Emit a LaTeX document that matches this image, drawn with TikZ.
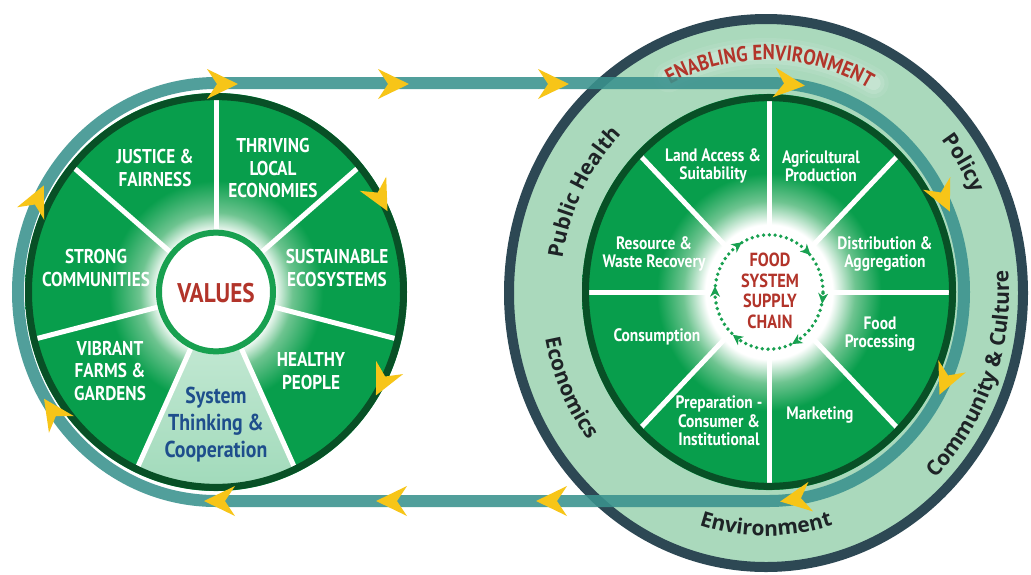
\documentclass[tikz,border=0pt]{standalone}
\usepackage{fontspec}
\usetikzlibrary{decorations.text}
\newfontfamily\cf[FakeStretch=0.86]{PT Sans}
\newfontfamily\rf{Open Sans}
\definecolor{dgreen}{RGB}{8,158,76}
\definecolor{gmid}{RGB}{110,196,144}
\definecolor{dkgreen}{RGB}{8,80,38}
\definecolor{cgreen}{RGB}{24,160,80}
\definecolor{lgreen}{RGB}{170,217,188}
\definecolor{lsect}{RGB}{160,218,186}
\definecolor{lsecttop}{RGB}{205,236,218}
\definecolor{slate}{RGB}{45,72,84}
\definecolor{tealc}{RGB}{58,146,142}
\definecolor{yel}{RGB}{247,197,24}
\definecolor{redc}{RGB}{178,52,42}
\definecolor{bluec}{RGB}{30,78,140}
\definecolor{ink}{RGB}{30,35,38}
\pgfdeclareradialshading{glowL}{\pgfpoint{0bp}{0bp}}{color(0bp)=(white); color(7.5bp)=(white); color(10bp)=(gmid); color(14bp)=(dgreen); color(50bp)=(dgreen)}
\pgfdeclareradialshading{glowR}{\pgfpoint{0bp}{0bp}}{color(0bp)=(white); color(8.5bp)=(white); color(11.5bp)=(gmid); color(15bp)=(dgreen); color(50bp)=(dgreen)}
\tikzset{
  wtxt/.style={text=white, align=center, inner sep=0pt, font=\cf\bfseries\fontsize{20}{22.5}\selectfont},
  rtxt/.style={text=white, align=center, inner sep=0pt, font=\cf\bfseries\fontsize{18}{18.5}\selectfont},
  redtxt/.style={text=redc, align=center, inner sep=0pt, font=\cf\bfseries\fontsize{19}{20.5}\selectfont},
  systxt/.style={text=bluec, align=center, inner sep=0pt, font=\cf\bfseries\fontsize{23}{27}\selectfont},
  valtxt/.style={text=redc, inner sep=0pt, font=\cf\bfseries\fontsize{27}{27}\selectfont},
  divline/.style={white, line width=5pt},
  ringtxt/.style={decorate, decoration={text along path, text align=center, text={#1}}}
}
\newcommand\yarr[3]{\fill[yel, shift={(#1,#2)}, rotate=#3] (16,0) -- (-15,15) -- (-5,0) -- (-15,-15) -- cycle;}
\begin{document}
\begin{tikzpicture}[x=1pt,y=1pt]
\useasboundingbox (0,0) rectangle (1031,-574);
\fill[white] (0,0) rectangle (1031,-574);

% outer ring of right circle
\fill[lgreen] (766,-293) ellipse[x radius=257, y radius=274];
\draw[slate, line width=10pt] (766,-293) ellipse[x radius=257, y radius=274];

% soft glow behind ENABLING ENVIRONMENT
\foreach \w/\o in {30/0.08,22/0.12,14/0.18}
  \draw[white, opacity=\o, line width=\w pt, line cap=round] (766,-293) ++(116:222 and 240) arc[start angle=116, end angle=61, x radius=222, y radius=240];

% ring texts
\path[ringtxt={|\cf\bfseries\fontsize{21.5}{21.5}\selectfont\color{redc}|ENABLING ENVIRONMENT}]
  (766,-293) ++(130:215 and 233) arc[start angle=130, end angle=48, x radius=215, y radius=233];
\path[ringtxt={|\rf\bfseries\fontsize{21}{21}\selectfont\color{ink}|Public Health}]
  (766,-293) ++(195:206 and 222) arc[start angle=195, end angle=109, x radius=206, y radius=222];
\path[ringtxt={|\rf\bfseries\fontsize{21}{21}\selectfont\color{ink}|Policy}]
  (766,-293) ++(60:226 and 243) arc[start angle=60, end angle=4, x radius=226, y radius=243];
\path[ringtxt={|\rf\bfseries\fontsize{21}{21}\selectfont\color{ink}|Community {\&} Culture}]
  (766,-293) ++(-80:243 and 259) arc[start angle=-80, end angle=38, x radius=243, y radius=259];
\path[ringtxt={|\rf\bfseries\fontsize{21}{21}\selectfont\color{ink}|Economics}]
  (766,-293) ++(160:225 and 240) arc[start angle=160, end angle=250, x radius=225, y radius=240];
\path[ringtxt={|\rf\bfseries\fontsize{21}{21}\selectfont\color{ink}|Environment}]
  (766,-293) ++(226:226 and 243) arc[start angle=226, end angle=314, x radius=226, y radius=243];

% teal loop
\draw[tealc, line width=12pt, opacity=0.88] (216,-83) -- (769,-83)
  arc[start angle=90, end angle=-90, x radius=195, y radius=209] -- (216,-501)
  arc[start angle=-90, end angle=-270, x radius=198, y radius=209] -- cycle;

% left wheel
\begin{scope}[shift={(216,-292)}, yscale=1.042]
  \shade[shading=glowL] (0,0) circle (191);
  \shade[top color=lsecttop, bottom color=lsect] (0,0) -- (-115:186) arc[start angle=-115, end angle=-65, radius=186] -- cycle;
  \foreach \a in {140,90,40,-14,-65,-115,-166} \draw[divline] (\a:56) -- (\a:186);
  \draw[dkgreen, line width=7pt] (0,0) circle (187.5);
  \fill[white] (0,0) circle (57);
  \draw[cgreen, line width=6pt] (0,0) circle (57);
\end{scope}

% right wheel
\begin{scope}[shift={(769,-292)}, yscale=1.059]
  \shade[shading=glowR] (0,0) circle (187);
  \foreach \a in {0,45,...,315} \draw[divline] (\a:56) -- (\a:184);
  \draw[dkgreen, line width=7pt] (0,0) circle (183.5);
  \fill[white] (0,0) circle (55);
  \draw[cgreen, line width=3.8pt, line cap=round, dash pattern=on 0pt off 5.8pt] (0,0) circle (54);
  \foreach \a in {126,46,-6,-59,-126,180}
    \fill[cgreen, shift={(\a:54)}, rotate=\a-90] (5.5,0) -- (-4.5,5) -- (-1.5,0) -- (-4.5,-5) -- cycle;
\end{scope}

% left texts
\node[wtxt] (justice) at (155,-168) {JUSTICE \&\\FAIRNESS};
\node[wtxt] (thriving) at (273,-168) {THRIVING\\LOCAL\\ECONOMIES};
\node[wtxt] (sustain) at (337,-268) {SUSTAINABLE\\ECOSYSTEMS};
\node[wtxt] (strong) at (96,-268) {STRONG\\COMMUNITIES};
\node[wtxt] (vibrant) at (110,-371) {VIBRANT\\FARMS \&\\GARDENS};
\node[wtxt] (healthy) at (311,-371) {HEALTHY\\PEOPLE};
\node[valtxt] (values) at (216,-293) {VALUES};
\node[systxt] (system) at (216,-425) {System\\Thinking \&\\Cooperation};

% right texts
\node[rtxt] (land) at (713,-166) {Land Access \&\\Suitability};
\node[rtxt] (agri) at (821,-166) {Agricultural\\Production};
\node[rtxt] (resource) at (654,-254) {Resource \&\\Waste Recovery};
\node[rtxt] (distrib) at (885,-254) {Distribution \&\\Aggregation};
\node[rtxt] (consum) at (657,-337) {Consumption};
\node[rtxt] (foodproc) at (880,-334) {Food\\Processing};
\node[rtxt] (prep) at (719,-421) {Preparation -\\Consumer \&\\Institutional};
\node[rtxt] (market) at (820,-415) {Marketing};
\node[redtxt] (food) at (770,-291) {FOOD\\SYSTEM\\SUPPLY\\CHAIN};

% yellow flow arrows
\yarr{222}{-84}{0}
\yarr{393}{-84}{0}
\yarr{553}{-84}{0}
\yarr{789}{-84}{-6}
\yarr{943}{-197}{-65}
\yarr{946}{-380}{-114}
\yarr{796}{-499}{189}
\yarr{552}{-501}{180}
\yarr{392}{-501}{180}
\yarr{220}{-501}{180}
\yarr{53}{-412}{124}
\yarr{37}{-200}{65}
\yarr{380}{-197}{-62}
\yarr{383}{-381}{-116}
\end{tikzpicture}
\end{document}
